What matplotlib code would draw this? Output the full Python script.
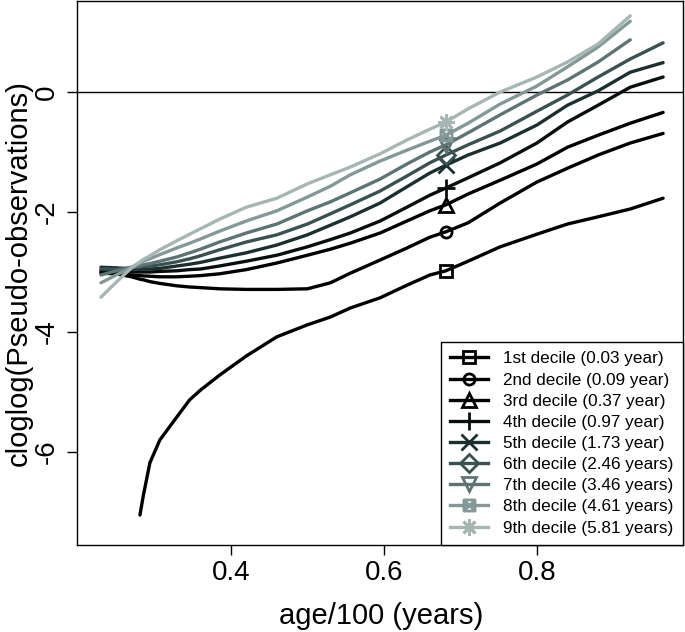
import numpy as np
import matplotlib
matplotlib.use('Agg')
import matplotlib.pyplot as plt
from matplotlib.lines import Line2D
from matplotlib.path import Path

plt.rcParams['font.family'] = ['Liberation Sans', 'DejaVu Sans']

nan = np.nan
age = [0.23, 0.25, 0.27, 0.281, 0.2855, 0.294, 0.307, 0.329, 0.346, 0.36, 0.385, 0.42, 0.46,
       0.50, 0.53, 0.556, 0.595, 0.63, 0.66, 0.681, 0.71, 0.752, 0.80, 0.84, 0.88, 0.922, 0.965]

d1 = [nan, nan, nan, -7.05, -6.72, -6.18, -5.8, -5.42, -5.13, -4.97, -4.72, -4.4, -4.08,
      -3.88, -3.75, -3.6, -3.43, -3.22, -3.05, -2.98, -2.82, -2.58, -2.37, -2.2, -2.08, -1.95, -1.77]
d2 = [-3.0, -3.03, -3.08, -3.12, -3.13, -3.16, -3.19, -3.23, -3.25, -3.26, -3.28, -3.29, -3.29,
      -3.28, -3.18, -3.02, -2.8, -2.6, -2.42, -2.33, -2.18, -1.85, -1.5, -1.27, -1.05, -0.85, -0.69]
d3 = [-3.02, -3.03, -3.05, -3.06, -3.065, -3.07, -3.08, -3.08, -3.07, -3.06, -3.03, -2.96, -2.85,
      -2.72, -2.62, -2.52, -2.35, -2.15, -1.98, -1.88, -1.7, -1.47, -1.2, -0.92, -0.72, -0.52, -0.34]
d4 = [-2.97, -2.98, -3.0, -3.0, -3.0, -3.0, -2.99, -2.98, -2.96, -2.95, -2.9, -2.82, -2.72,
      -2.58, -2.46, -2.35, -2.15, -1.92, -1.72, -1.6, -1.43, -1.18, -0.85, -0.5, -0.22, 0.08, 0.25]
d5 = [-2.92, -2.93, -2.95, -2.95, -2.95, -2.95, -2.94, -2.9, -2.87, -2.84, -2.77, -2.68, -2.55,
      -2.38, -2.22, -2.08, -1.85, -1.58, -1.35, -1.22, -1.05, -0.85, -0.55, -0.22, 0.02, 0.33, 0.49]
d6 = [-2.95, -2.95, -2.93, -2.92, -2.91, -2.9, -2.88, -2.83, -2.78, -2.73, -2.63, -2.5, -2.38,
      -2.2, -2.03, -1.88, -1.65, -1.4, -1.18, -1.05, -0.88, -0.65, -0.32, -0.05, 0.25, 0.55, 0.82]
d7 = [-3.05, -2.98, -2.92, -2.9, -2.88, -2.86, -2.82, -2.75, -2.68, -2.62, -2.5, -2.35, -2.2,
      -1.98, -1.83, -1.68, -1.45, -1.2, -1.0, -0.88, -0.68, -0.38, -0.05, 0.2, 0.5, 0.87, nan]
d8 = [-3.18, -3.05, -2.92, -2.85, -2.82, -2.78, -2.71, -2.6, -2.52, -2.45, -2.32, -2.15, -1.98,
      -1.75, -1.57, -1.38, -1.15, -0.97, -0.82, -0.72, -0.52, -0.2, 0.1, 0.42, 0.75, 1.18, nan]
d9 = [-3.42, -3.17, -2.93, -2.83, -2.79, -2.73, -2.63, -2.48, -2.37, -2.28, -2.12, -1.92, -1.77,
      -1.53, -1.38, -1.25, -1.03, -0.8, -0.62, -0.5, -0.28, 0.0, 0.25, 0.5, 0.8, 1.27, nan]

labels = ['1st decile (0.03 year)', '2nd decile (0.09 year)', '3rd decile (0.37 year)',
          '4th decile (0.97 year)', '5th decile (1.73 year)', '6th decile (2.46 years)',
          '7th decile (3.46 years)', '8th decile (4.61 years)', '9th decile (5.81 years)']
colors = ['#000000', '#000000', '#000000', '#080d0d', '#1c2f2f', '#3a5151',
          '#5e7474', '#849898', '#a6b7b3']

# square with a cross (like R pch 7)
box_x = Path([(-1, -1), (1, -1), (1, 1), (-1, 1), (-1, -1), (-1, -1), (1, 1), (-1, 1), (1, -1)],
             [Path.MOVETO, Path.LINETO, Path.LINETO, Path.LINETO, Path.CLOSEPOLY,
              Path.MOVETO, Path.LINETO, Path.MOVETO, Path.LINETO])
markers = ['s', 'o', '^', '+', 'x', 'D', 'v', box_x, (8, 2, 0)]
sizes = [8, 8, 10, 13, 11, 9, 10, 8, 12]

series = [d1, d2, d3, d4, d5, d6, d7, d8, d9]
mark_idx = age.index(0.681)

fig = plt.figure(figsize=(6.85, 6.32), dpi=100)
ax = fig.add_axes([77 / 685, 87 / 632, 606 / 685, 544 / 632])

ax.axhline(0, color='black', lw=1)

handles = []
for y, c, m, s in zip(series, colors, markers, sizes):
    ax.plot(age, y, color=c, lw=2.4, marker=m, markevery=[mark_idx], ms=s,
            mfc='none', mec=c, mew=2, solid_capstyle='round', solid_joinstyle='round')
    handles.append(Line2D([], [], color=c, lw=2.4, marker=m, ms=s, mfc='none', mec=c, mew=2))

ax.set_xlim(0.1987, 0.991)
ax.set_ylim(-7.55, 1.517)
ax.set_xticks([0.4, 0.6, 0.8])
ax.set_yticks([-6, -4, -2, 0])
ax.set_xticklabels(['0.4', '0.6', '0.8'])
ax.set_yticklabels(['-6', '-4', '-2', '0'])
ax.tick_params(axis='both', direction='out', length=7, width=1, labelsize=20)
ax.tick_params(axis='x', pad=3.6)
ax.tick_params(axis='y', pad=5.5)
for lbl in ax.get_yticklabels():
    lbl.set_rotation(90)
    lbl.set_va('center')
for sp in ax.spines.values():
    sp.set_linewidth(1)

fig.text(381 / 685, 1 - 616 / 632, 'age/100 (years)', fontsize=21, ha='center', va='center')
fig.text(19 / 685, 1 - 273 / 632, 'cloglog(Pseudo-observations)', fontsize=21,
         ha='center', va='center', rotation=90)

leg = ax.legend(handles, labels, loc='lower right', bbox_to_anchor=(1, 0), borderaxespad=0,
                fontsize=12.3, numpoints=1, handlelength=2.2, handletextpad=0.9,
                labelspacing=0.36, borderpad=0.55, fancybox=False, framealpha=1)
leg.get_frame().set_edgecolor('black')
leg.get_frame().set_linewidth(1)

fig.savefig('out.png', dpi=100)
